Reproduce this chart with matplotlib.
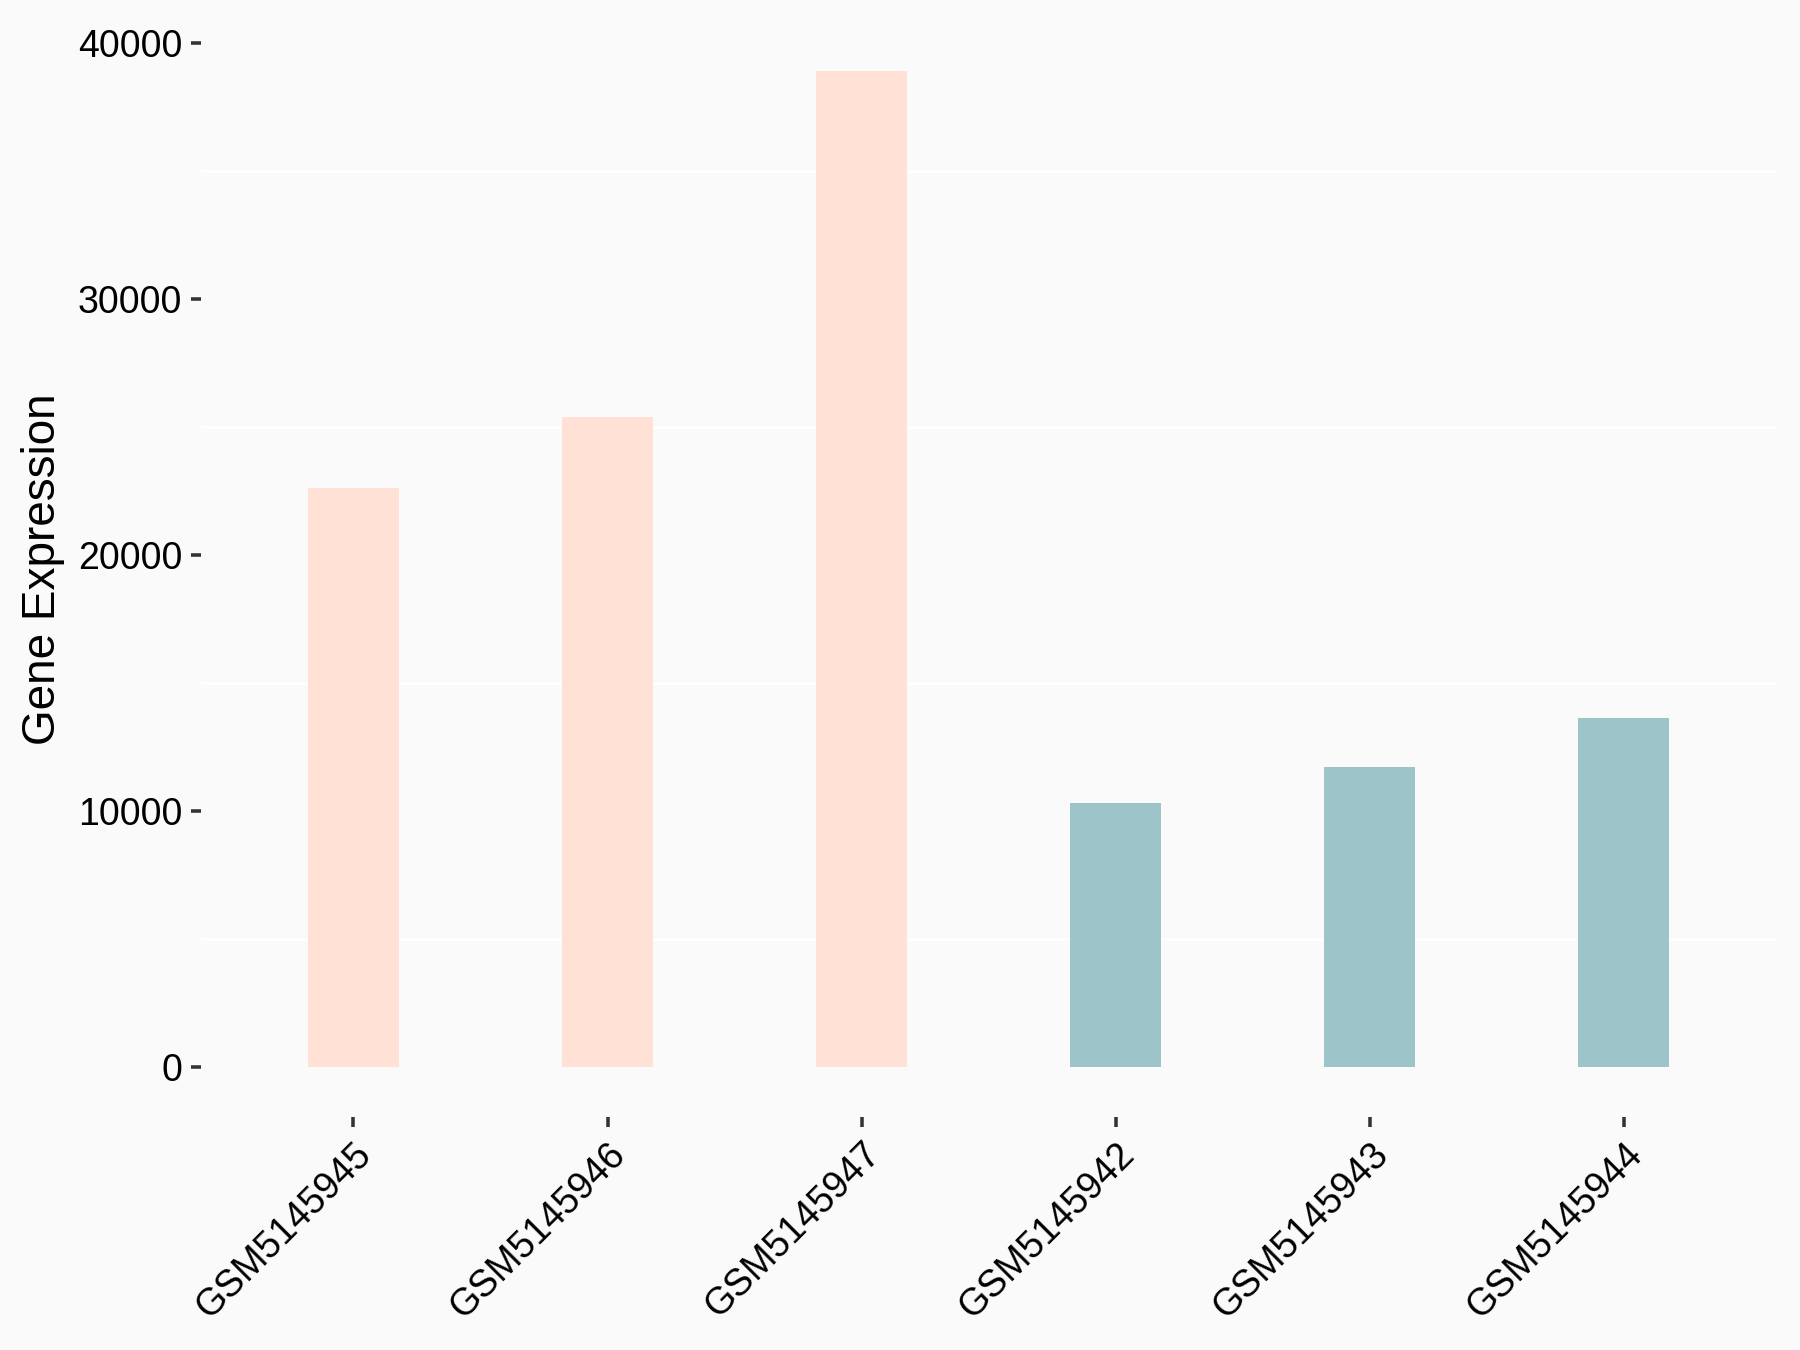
import matplotlib.pyplot as plt
import numpy as np

# Data
samples = ['GSM5145945', 'GSM5145946', 'GSM5145947', 'GSM5145942', 'GSM5145943', 'GSM5145944']
expression = [22650, 25420, 38920, 10310, 11750, 13630]
bar_colors = ['#FFE1D6', '#FFE1D6', '#FFE1D6', '#9DC4C8', '#9DC4C8', '#9DC4C8']

plt.rcParams['font.family'] = ['Liberation Sans', 'DejaVu Sans']

fig = plt.figure(figsize=(12, 9), dpi=150, facecolor='#FAFAFA')
ax = fig.add_axes([0.1117, 0.1724, 0.875, 0.8119])
ax.set_facecolor('#FAFAFA')

index = np.arange(len(samples))
ax.bar(index, expression, 0.36, color=bar_colors, zorder=2)

ax.set_xlim(-0.6, len(samples) - 0.4)
ymax = max(expression)
ax.set_ylim(-0.05 * ymax, 1.05 * ymax)
ax.set_yticks([0, 10000, 20000, 30000, 40000])
ax.set_yticks([5000, 15000, 25000, 35000], minor=True)
ax.yaxis.grid(True, which='minor', color='white', linewidth=1.2, zorder=1)
ax.set_xticks(index)
ax.set_xticklabels(samples, rotation=45, ha='right', va='top', rotation_mode='anchor')

for s in ax.spines.values():
    s.set_visible(False)
ax.tick_params(axis='both', which='major', length=5, width=1.7, color='#333333',
               labelsize=18, labelcolor='black', pad=4)
ax.tick_params(axis='y', which='minor', length=0)

ax.set_ylabel('Gene Expression', fontsize=22, labelpad=6)

fig.savefig('out.png', dpi=150, facecolor=fig.get_facecolor())
